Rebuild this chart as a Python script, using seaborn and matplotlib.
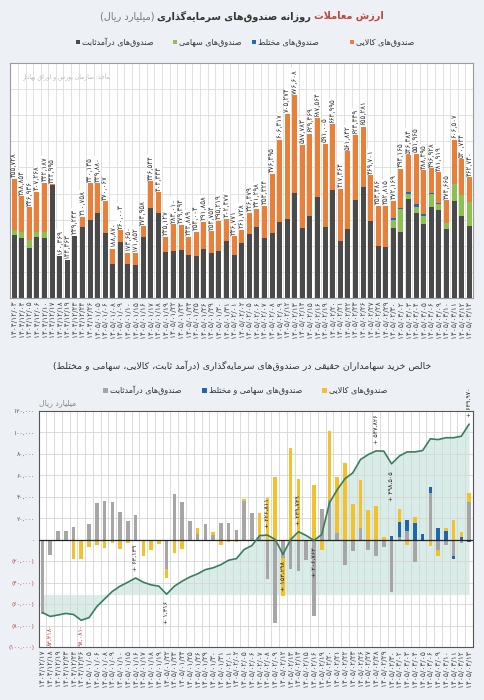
import numpy as np
import pandas as pd
import matplotlib
matplotlib.use("Agg")
import matplotlib.pyplot as plt
import seaborn as sns
from matplotlib.patches import Rectangle

# ---------------- data: top chart (daily trading value, billion rials) ----------------
dates_extra = ["1404/12/03", "1404/12/04", "1404/12/05", "1404/12/06", "1404/12/10"]
dates_bot = [
    "1404/12/17", "1404/12/18", "1404/12/19", "1404/12/23", "1404/12/24", "1404/12/26",
    "1405/01/05", "1405/01/06", "1405/01/08", "1405/01/09", "1405/01/10", "1405/01/15",
    "1405/01/16", "1405/01/17", "1405/01/18", "1405/01/19", "1405/01/22", "1405/01/23",
    "1405/01/24", "1405/01/25", "1405/01/26", "1405/01/29", "1405/01/30", "1405/01/31",
    "1405/02/01", "1405/02/02", "1405/02/05", "1405/02/06", "1405/02/07", "1405/02/08",
    "1405/02/09", "1405/02/12", "1405/02/13", "1405/02/14", "1405/02/15", "1405/02/16",
    "1405/02/19", "1405/02/20", "1405/02/21", "1405/02/22", "1405/02/23", "1405/02/26",
    "1405/02/27", "1405/02/28", "1405/02/29", "1405/02/30",
    "1405/03/02", "1405/03/03", "1405/03/04", "1405/03/05", "1405/03/06", "1405/03/09",
    "1405/03/10", "1405/03/11", "1405/03/12", "1405/03/13",
]
dates_top = dates_extra + dates_bot

total_top = [455728, 388854, 346936, 407268, 442187, 434995, 160369, 144363, 239233, 310758,
             440135, 439880, 370067, 188870, 260003, 173650, 171852, 273958, 446544, 404334,
             235127, 283010, 279394, 233889, 254004, 291858, 254754, 295219, 302477, 236771,
             261728, 326479, 341298, 353324, 476395, 606317, 705274, 776608, 587783, 629469,
             687564, 591005, 664995, 417364, 561842, 623339, 655281, 469701, 353486, 352815,
             372169, 494165, 546384, 551965, 488495, 496928, 481919, 374665, 606507, 530744,
             462740]
fixed_top = [241000, 228000, 190000, 235000, 228000, 432000, 160369, 144363, 239233, 273000,
             299000, 324000, 250000, 129000, 215000, 129000, 126000, 235000, 344000, 327000,
             177000, 181000, 183000, 164000, 162000, 187000, 171000, 181000, 219000, 164000,
             212000, 247000, 273000, 231000, 250000, 292000, 303000, 404000, 267000, 315000,
             388000, 273000, 414000, 218000, 264000, 376000, 427000, 296000, 200000, 196000,
             267000, 254000, 378000, 327000, 282000, 350000, 337000, 263000, 372000, 314000,
             276000]
equity_top = [19000, 26000, 32000, 19000, 26000] + [0] * 45 + \
             [32000, 86000, 19000, 23000, 33000, 47000, 22000, 26000, 64000, 81000, 90000]
mixed_top = [0] * 50 + [9000, 5000, 8000, 9000, 6000, 4000, 4000, 0, 0, 0, 0]

# ---------------- data: bottom chart (net buying of individuals) ----------------
fixed_bot = [-69000, -14000, 8600, 7700, 11700, 0, 14800, 34500, 35700, 35000, 26000, 17000,
             22800, 0, 0, 0, -27000, 42500, 35400, 17500, 5500, 14800, 4000, 15400, 16000,
             9200, 36000, 25200, 3000, -37000, -78000, -17000, -27700, -29000, -18500, -70800,
             28300, 37000, 6000, -24000, -10800, 10800, -9800, -15400, -7000, -49000, 3000,
             7700, -21000, 0, 44000, -9800, -4600, -15400, -3000, 35400]
commod_bot = [0, 0, 0, 0, -17800, -17500, -6800, -4600, -7700, -3000, -8300, -3000, 0, -15400,
              -9200, -4000, -9000, -12300, -8300, 0, 5800, 0, 2800, -4600, -2200, -2500, 2000,
              0, 21600, 38500, 58500, -35000, 85500, 57000, 0, 50800, -9200, 64000, 52500,
              71700, 33000, 45200, 27700, 31400, 3000, 0, 12300, -4600, 5500, -1500, -5500,
              -5500, 2500, 18500, 4600, 7700]
mixed_bot = [0] * 45 + [3700, 13800, 10800, 15400, 5500, 5200, 10800, 8300, -3000, 2200, -2500]
cum_bot = [-69000, -83418, -78000, -72000, -76000, -98081, -88000, -46000, -17000, 12000,
           32000, 47000, 63139, 47000, 37000, 32000, 1316, 32000, 51000, 67000,
           79000, 95000, 102000, 114000, 131000, 137000, 172000, 187000, 225000, 226811,
           210000, 153298, 210000, 239739, 225000, 206763, 229000, 350000, 400000, 442000,
           464000, 515000, 534000, 547826, 547000, 498505, 528000, 544000, 544000, 549000,
           594000, 591000, 598000, 598000, 604000, 649970]
# labelled points on the cumulative line: index -> above(+1)/below(-1)
cum_labels = {12: 1, 16: -1, 29: 1, 31: -1, 33: 1, 35: -1, 43: 1, 45: -1, 55: 1}
cum_red = [1, 5]

# ---------------- text ----------------
title1_red = "ارزش معاملات"
title1_main = "روزانه صندوق‌های سرمایه‌گذاری"
title1_unit = "(میلیارد ریال)"
legend1 = ["صندوق‌های کالایی", "صندوق‌های مختلط", "صندوق‌های سهامی", "صندوق‌های درآمدثابت"]
source_txt = "مأخذ: سازمان بورس و اوراق بهادار"
title2 = "خالص خرید سهامداران حقیقی در صندوق‌های سرمایه‌گذاری (درآمد ثابت، کالایی، سهامی و مختلط)"
legend2 = ["صندوق‌های کالایی", "صندوق‌های سهامی و مختلط", "صندوق‌های درآمدثابت"]
unit2 = "میلیارد ریال"

BG = "#edf0f4"
C_FIX1, C_EQ1, C_MIX1, C_COM1 = "#4a4a4a", "#8cc152", "#1f6db5", "#e8803a"
C_FIX2, C_COM2, C_MIX2 = "#a6a6a6", "#f3c12a", "#1f66ad"
C_LINE, C_FILL, C_RED = "#3a7d5c", "#d9ede8", "#c0453f"

FA = str.maketrans("0123456789", "۰۱۲۳۴۵۶۷۸۹")


def fa_num(v):
    return f"{int(round(v)):,}".translate(FA)


# minimal arabic/persian shaping (matplotlib has no bidi / joining)
_F = {
    "ا": "\ufe8d\ufe8e", "آ": "\ufe81\ufe82", "أ": "\ufe83\ufe84", "د": "\ufea9\ufeaa",
    "ذ": "\ufeab\ufeac", "ر": "\ufead\ufeae", "ز": "\ufeaf\ufeb0", "ژ": "\ufb8a\ufb8b",
    "و": "\ufeed\ufeee",
    "ب": "\ufe8f\ufe90\ufe91\ufe92", "پ": "\ufb56\ufb57\ufb58\ufb59", "ت": "\ufe95\ufe96\ufe97\ufe98",
    "ث": "\ufe99\ufe9a\ufe9b\ufe9c", "ج": "\ufe9d\ufe9e\ufe9f\ufea0", "چ": "\ufb7a\ufb7b\ufb7c\ufb7d",
    "ح": "\ufea1\ufea2\ufea3\ufea4", "خ": "\ufea5\ufea6\ufea7\ufea8", "س": "\ufeb1\ufeb2\ufeb3\ufeb4",
    "ش": "\ufeb5\ufeb6\ufeb7\ufeb8", "ص": "\ufeb9\ufeba\ufebb\ufebc", "ض": "\ufebd\ufebe\ufebf\ufec0",
    "ط": "\ufec1\ufec2\ufec3\ufec4", "ظ": "\ufec5\ufec6\ufec7\ufec8", "ع": "\ufec9\ufeca\ufecb\ufecc",
    "غ": "\ufecd\ufece\ufecf\ufed0", "ف": "\ufed1\ufed2\ufed3\ufed4", "ق": "\ufed5\ufed6\ufed7\ufed8",
    "ک": "\ufb8e\ufb8f\ufb90\ufb91", "گ": "\ufb92\ufb93\ufb94\ufb95", "ل": "\ufedd\ufede\ufedf\ufee0",
    "م": "\ufee1\ufee2\ufee3\ufee4", "ن": "\ufee5\ufee6\ufee7\ufee8", "ه": "\ufee9\ufeea\ufeeb\ufeec",
    "ی": "\ufbfc\ufbfd\ufbfe\ufbff", "ئ": "\ufe89\ufe8a\ufe8b\ufe8c",
}
_LAM_ALEF = {"ا": "\ufefb\ufefc", "آ": "\ufef5\ufef6", "أ": "\ufef7\ufef8"}


def shape(s):
    def dual(c):
        return c in _F and len(_F[c]) == 4
    out, i, n = [], 0, len(s)
    while i < n:
        c = s[i]
        if c not in _F:
            out.append(c)
            i += 1
            continue
        jp = i > 0 and dual(s[i - 1])
        if c == "ل" and i + 1 < n and s[i + 1] in _LAM_ALEF:
            out.append(_LAM_ALEF[s[i + 1]][1 if jp else 0])
            i += 2
            continue
        jn = dual(c) and i + 1 < n and s[i + 1] in _F
        f = _F[c]
        out.append(f[3] if (jp and jn) else f[1] if jp else f[2] if jn else f[0])
        i += 1
    txt = "".join(out).replace("\u200c", "")
    return txt[::-1].translate(str.maketrans("()", ")("))


sns.set_theme(style="white")
plt.rcParams["font.family"] = ["DejaVu Sans"]

W, H = 484, 700
fig = plt.figure(figsize=(W / 100, H / 100), dpi=100, facecolor=BG)
renderer = fig.canvas.get_renderer()


def rtl_row(parts, center_x, y, size, gap=3):
    """parts: list of (text, color, weight); placed right-to-left, centred on center_x"""
    texts = []
    for txt, col, wt in parts:
        t = fig.text(0, 1 - y / H, shape(txt), ha="left", va="center", fontsize=size,
                     color=col, fontweight=wt)
        texts.append(t)
    widths = [t.get_window_extent(renderer).width for t in texts]
    total = sum(widths) + gap * (len(parts) - 1)
    x = center_x + total / 2
    for t, w in zip(texts, widths):
        x -= w
        t.set_x(x / W)
        x -= gap


def legend_row(labels, colors, rights, y, size, sq):
    for lab, col, xr in zip(labels, colors, rights):
        t = fig.text(xr / W, 1 - y / H, shape(lab), ha="right", va="center", fontsize=size, color="#333333")
        x0 = t.get_window_extent(renderer).x0
        fig.add_artist(Rectangle(((x0 - sq - 2) / W, 1 - (y + sq / 2) / H), sq / W, sq / H,
                                 transform=fig.transFigure, color=col, lw=0))


# ================= top chart =================
ax1 = fig.add_axes([10 / W, 1 - 298 / H, 463 / W, 235 / H])
df1 = pd.DataFrame({"date": [d.translate(FA) for d in dates_top], "total": total_top,
                    "fixed": fixed_top, "equity": equity_top, "mixed": mixed_top})
df1["commodity"] = df1["total"] - df1["fixed"] - df1["equity"] - df1["mixed"]
order1 = list(df1["date"])
base = np.zeros(len(df1))
for col, colr in [("fixed", C_FIX1), ("equity", C_EQ1), ("mixed", C_MIX1), ("commodity", C_COM1)]:
    sns.barplot(data=df1, x="date", y=col, order=order1, color=colr, saturation=1, width=0.66,
                errorbar=None, bottom=base.copy(), edgecolor="none", linewidth=0, ax=ax1, zorder=2)
    base += df1[col].values

for i, tot in enumerate(df1["total"]):
    ax1.text(i, tot + 6000, fa_num(tot), rotation=90, ha="center", va="bottom", fontsize=5.0,
             color="#333333", zorder=4, bbox=dict(fc="white", ec="none", pad=0.3))

n1 = len(df1)
ax1.set_xlim(-0.55, n1 - 0.55)
ax1.set_ylim(0, 900000)
ax1.set_yticks(np.arange(0, 900001, 100000))
ax1.set_xticks(np.arange(-0.5, n1, 1), minor=True)
ax1.set_xticks(range(n1))
ax1.set_xticklabels(order1, rotation=90, fontsize=5.3, color="#444444")
ax1.tick_params(axis="x", which="both", length=0, pad=2)
ax1.tick_params(axis="y", left=False, labelleft=False)
ax1.grid(True, axis="y", color="#dcdcdc", lw=0.6)
ax1.grid(True, axis="x", which="minor", color="#dcdcdc", lw=0.6)
ax1.set_axisbelow(True)
ax1.set_xlabel("")
ax1.set_ylabel("")
ax1.set_facecolor("white")
for sp in ax1.spines.values():
    sp.set_color("#9a9a9a")
    sp.set_linewidth(0.8)
ax1.text(0.026, 0.94, shape(source_txt), transform=ax1.transAxes, fontsize=4.3, color="#b8b8b8",
         ha="left", va="center")

rtl_row([(title1_red, C_RED, "bold"), (title1_main, "#333333", "bold"),
         (title1_unit, "#777777", "normal")], 242, 16, 7.0)
legend_row(legend1, [C_COM1, C_MIX1, C_EQ1, C_FIX1], [414, 319, 242, 154], 42, 5.8, 4)

# ================= bottom chart =================
ax2 = fig.add_axes([39 / W, 1 - 647 / H, 434 / W, 236 / H])
df2 = pd.DataFrame({"date": [d.translate(FA) for d in dates_bot], "fixed": fixed_bot,
                    "mixed": mixed_bot, "commodity": commod_bot, "cum": cum_bot})
order2 = list(df2["date"])
n2 = len(df2)

# diverging stack: positives fixed -> mixed -> commodity, negatives fixed -> commodity -> mixed
bottoms = {}
pos = np.zeros(n2)
for col in ["fixed", "mixed", "commodity"]:
    v = df2[col].values
    bottoms[col] = pos.copy()
    pos += np.clip(v, 0, None)
neg = np.zeros(n2)
for col in ["fixed", "commodity", "mixed"]:
    v = df2[col].values
    bottoms[col] = np.where(v >= 0, bottoms[col], neg)
    neg += np.clip(v, None, 0)

for col, colr in [("fixed", C_FIX2), ("mixed", C_MIX2), ("commodity", C_COM2)]:
    sns.barplot(data=df2, x="date", y=col, order=order2, color=colr, saturation=1, width=0.46,
                errorbar=None, bottom=bottoms[col], edgecolor="none", linewidth=0, ax=ax2, zorder=2)

ax2.axhline(0, color="#222222", lw=0.9, zorder=3)
ax2.set_xlim(-0.45, n2 - 0.5)
ax2.set_ylim(-100000, 120000)
yt = np.arange(-100000, 120001, 20000)
ax2.set_yticks(yt)
ax2.set_yticklabels([fa_num(v) if v >= 0 else "(" + fa_num(-v) + ")" for v in yt], fontsize=4.3)
for lab, v in zip(ax2.get_yticklabels(), yt):
    lab.set_color(C_RED if v < 0 else "#555555")
ax2.set_xticks(np.arange(-0.5, n2, 1), minor=True)
ax2.set_xticks(range(n2))
ax2.set_xticklabels(order2, rotation=90, fontsize=5.3, color="#444444")
ax2.tick_params(axis="x", which="both", length=0, pad=2)
ax2.tick_params(axis="y", length=0, pad=3)
ax2.grid(True, axis="y", color="#d6d6d6", lw=0.6)
ax2.grid(True, axis="x", which="minor", color="#d6d6d6", lw=0.6)
ax2.set_axisbelow(True)
ax2.set_xlabel("")
ax2.set_ylabel("")
for sp in ax2.spines.values():
    sp.set_color("#555555")
    sp.set_linewidth(0.8)

# shaded cumulative area behind bars, line in front
ax_back = ax2.twinx()
ax_front = ax2.twinx()
for a in (ax_back, ax_front):
    a.set_ylim(-200000, 700000)
    a.tick_params(right=False, labelright=False)
    for sp in a.spines.values():
        sp.set_visible(False)
ax_back.set_zorder(0)
ax2.set_zorder(1)
ax_front.set_zorder(2)
ax_back.patch.set_visible(True)
ax_back.patch.set_facecolor("white")
ax2.patch.set_alpha(0)
xs = np.arange(n2)
ax_back.fill_between(xs, df2["cum"], 0, color=C_FILL, lw=0)
sns.lineplot(x=xs, y=df2["cum"].values, ax=ax_front, color=C_LINE, linewidth=1.2)
ax_front.set_ylabel("")
ax_front.set_xlim(-0.45, n2 - 0.5)

for i, side in cum_labels.items():
    v = cum_bot[i]
    ax_front.annotate("+ " + fa_num(v), (i, v), xytext=(0, 5 * side), textcoords="offset points",
                      rotation=90, ha="center", va="bottom" if side > 0 else "top",
                      fontsize=4.6, color="#222222", annotation_clip=False)
for i in cum_red:
    ax2.text(i, -99000, fa_num(abs(cum_bot[i])) + "-", rotation=90, ha="center", va="bottom",
             fontsize=4.6, color=C_RED, zorder=4)

rtl_row([(title2, "#333333", "normal")], 242, 366, 6.7)
legend_row(legend2, [C_COM2, C_MIX2, C_FIX2], [387, 302, 182], 390, 5.8, 5)
fig.text(58 / W, 1 - 403 / H, shape(unit2), ha="center", va="center", fontsize=5.6, color="#8a8a8a")

fig.savefig("out.png", dpi=100, facecolor=BG)
